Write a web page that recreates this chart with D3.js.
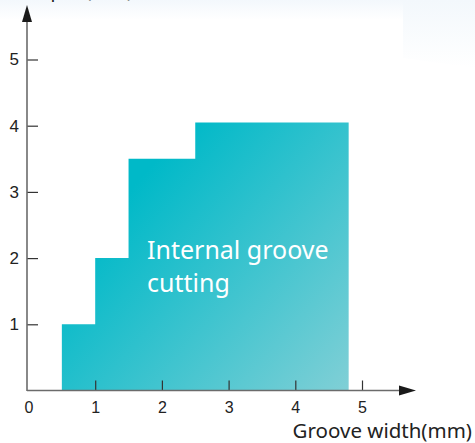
<!DOCTYPE html>
<html>
<head>
<meta charset="utf-8">
<script src="https://cdn.jsdelivr.net/npm/d3@7"></script>
<style>
  html, body { margin: 0; padding: 0; background: #fff; overflow: hidden; }
  svg { display: block; }
</style>
</head>
<body>
<svg id="chart" width="475" height="443"></svg>
<script>
// ---- data ----
const xTicks = [0, 1, 2, 3, 4, 5];
const yTicks = [1, 2, 3, 4, 5];
const stepStart = [0.5, 1, 1.5, 2.5];
const stepEnd = [1, 1.5, 2.5, 4.8];
const stepDepth = [1, 2, 3.5, 4.05];
const xLabel = "Groove width(mm)";
const yLabel = "Depth (mm)";
const regionLines = ["Internal groove", "cutting"];

const svg = d3.select("#chart");
const x = d3.scaleLinear().domain([0, 5]).range([28.5, 362]);
const y = d3.scaleLinear().domain([0, 5]).range([390.5, 59.5]);

const defs = svg.append("defs");
const bg = defs.append("linearGradient").attr("id", "bgGrad")
  .attr("x1", 0).attr("y1", 0).attr("x2", 0).attr("y2", 1);
bg.append("stop").attr("offset", "0%").attr("stop-color", "#f3f8fc");
bg.append("stop").attr("offset", "100%").attr("stop-color", "#ffffff");

const g = defs.append("linearGradient").attr("id", "fillGrad")
  .attr("gradientUnits", "userSpaceOnUse")
  .attr("x1", 130).attr("y1", 190).attr("x2", 370).attr("y2", 400);
g.append("stop").attr("offset", "0%").attr("stop-color", "#00b9c8");
g.append("stop").attr("offset", "100%").attr("stop-color", "#8ad1d7");

// faint background wash at the top
svg.append("rect").attr("x", 0).attr("y", 0).attr("width", 475).attr("height", 20)
  .attr("fill", "url(#bgGrad)");
svg.append("path")
  .attr("d", "M403,0 L475,0 L475,68 L403,58 Z")
  .attr("fill", "url(#bgGrad)");

// steps
const pts = [];
stepStart.forEach((s, i) => {
  pts.push([s, stepDepth[i]]);
  pts.push([stepEnd[i], stepDepth[i]]);
});
const area = d3.area()
  .x(d => x(d[0]))
  .y0(y(0))
  .y1(d => y(d[1]));
svg.append("path")
  .datum(pts)
  .attr("d", area)
  .attr("fill", "url(#fillGrad)");

// axes
const axisColor = "#6b6b6b";
const fmt = d3.format("d");
const xAxis = d3.axisBottom(x).tickValues(xTicks).tickFormat(fmt)
  .tickSizeInner(-10).tickSizeOuter(0).tickPadding(11);
const gx = svg.append("g").attr("transform", `translate(0,${y(0)})`).call(xAxis);
gx.select(".domain").remove();
gx.selectAll(".tick line").attr("stroke", "#333").attr("stroke-width", 1.2)
  .filter(d => d === 0).remove();
gx.selectAll(".tick text").attr("font-family", "Liberation Sans, Arial, sans-serif")
  .attr("font-size", 16).attr("fill", "#222");

const yAxis = d3.axisLeft(y).tickValues(yTicks).tickFormat(fmt)
  .tickSizeInner(-11).tickSizeOuter(0).tickPadding(8);
const gy = svg.append("g").attr("transform", `translate(${x(0) - 1.5},0)`).call(yAxis);
gy.select(".domain").remove();
gy.selectAll(".tick line").attr("stroke", "#333").attr("stroke-width", 1.2);
gy.selectAll(".tick text").attr("font-family", "Liberation Sans, Arial, sans-serif")
  .attr("font-size", 17).attr("fill", "#222");

const ax0 = x(0) - 1.5;
svg.append("line").attr("x1", ax0).attr("x2", ax0).attr("y1", y(0) + 0.5).attr("y2", 20)
  .attr("stroke", axisColor).attr("stroke-width", 1.6);
svg.append("line").attr("x1", ax0).attr("x2", 402).attr("y1", y(0)).attr("y2", y(0))
  .attr("stroke", axisColor).attr("stroke-width", 1.6);
// arrowheads
svg.append("path").attr("d", `M${ax0},5 L${ax0 + 5},22 L${ax0 - 5},22 Z`).attr("fill", "#1a1a1a");
svg.append("path").attr("d", `M416,${y(0)} L399,${y(0) - 5} L399,${y(0) + 5} Z`).attr("fill", "#1a1a1a");

// labels
svg.append("text").attr("x", 472).attr("y", 438).attr("text-anchor", "end")
  .attr("font-family", "Noto Sans, Open Sans, sans-serif").attr("font-size", 20.5).attr("fill", "#222")
  .text(xLabel);
svg.append("text").attr("x", 26).attr("y", -3)
  .attr("font-family", "Noto Sans, Open Sans, sans-serif").attr("font-size", 19).attr("fill", "#222")
  .text(yLabel);

const t = svg.append("text").attr("x", 147)
  .attr("font-family", "Noto Sans, Open Sans, sans-serif").attr("font-size", 25)
  .attr("fill", "#ffffff");
regionLines.forEach((line, i) => {
  t.append("tspan").attr("x", 147).attr("y", 259 + i * 33).text(line);
});
</script>
</body>
</html>
